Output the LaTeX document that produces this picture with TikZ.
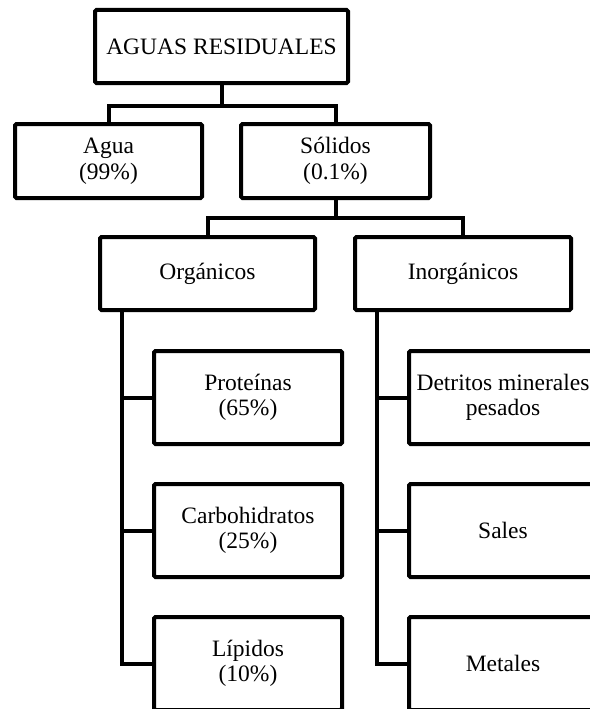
\documentclass[tikz,border=0pt]{standalone}
\usepackage{fontspec}
\setmainfont{Liberation Serif}
\usetikzlibrary{positioning}

\begin{document}
\begin{tikzpicture}[x=1pt,y=-1pt,line width=4pt,node distance=36pt,
	caja/.style={rectangle,draw,rounded corners=1.5pt,align=center,inner sep=0pt,
		minimum height=73pt,font=\fontsize{23.5}{25.5}\selectfont},
	hoja/.style={caja,minimum width=188pt,minimum height=93pt}]
	
	\useasboundingbox (0,0) rectangle (589,709);
	
	\node[caja,minimum width=253pt] (raiz) at (221.5,46.5) {AGUAS RESIDUALES};
	\node[caja,minimum width=187pt,minimum height=74pt] (agua) at (108.5,161) {Agua\\(99\%)};
	\node[caja,minimum width=189pt,minimum height=74pt] (solidos) [right=35pt of agua] {Sólidos\\(0.1\%)};
	\node[caja,minimum width=215pt] (org) at (207.5,273.5) {Orgánicos};
	\node[caja,minimum width=216pt] (inorg) [right=of org] {Inorgánicos};
	
	\node[hoja] (prot) at (248,397.5) {Proteínas\\(65\%)};
	\node[hoja] (carbo) [below=of prot] {Carbohidratos\\(25\%)};
	\node[hoja] (lip) [below=of carbo] {Lípidos\\(10\%)};
	\node[hoja] (detr) at (503,397.5) {Detritos minerales\\pesados};
	\node[hoja] (sales) [below=of detr] {Sales};
	\node[hoja] (metal) [below=of sales] {Metales};
	
	% ramas de arriba
	\draw (agua.north) -- ++(0,-16) coordinate (barra1) -| (solidos.north);
	\draw (raiz.south) -- (raiz.south |- barra1);
	\draw (org.north) -- ++(0,-17) coordinate (barra2) -| (inorg.north);
	\draw (solidos.south) -- (solidos.south |- barra2);
	
	% troncos de cada grupo
	\coordinate (tronco1) at ([xshift=24pt]org.south west);
	\coordinate (tronco2) at ([xshift=24pt]inorg.south west);
	\draw (tronco1) |- (lip.west);
	\draw (tronco2) |- (metal.west);
	\path[draw]
	(tronco1 |- prot.west) -- (prot.west)
	(tronco1 |- carbo.west) -- (carbo.west)
	(tronco2 |- detr.west) -- (detr.west)
	(tronco2 |- sales.west) -- (sales.west);
\end{tikzpicture}
\end{document}
